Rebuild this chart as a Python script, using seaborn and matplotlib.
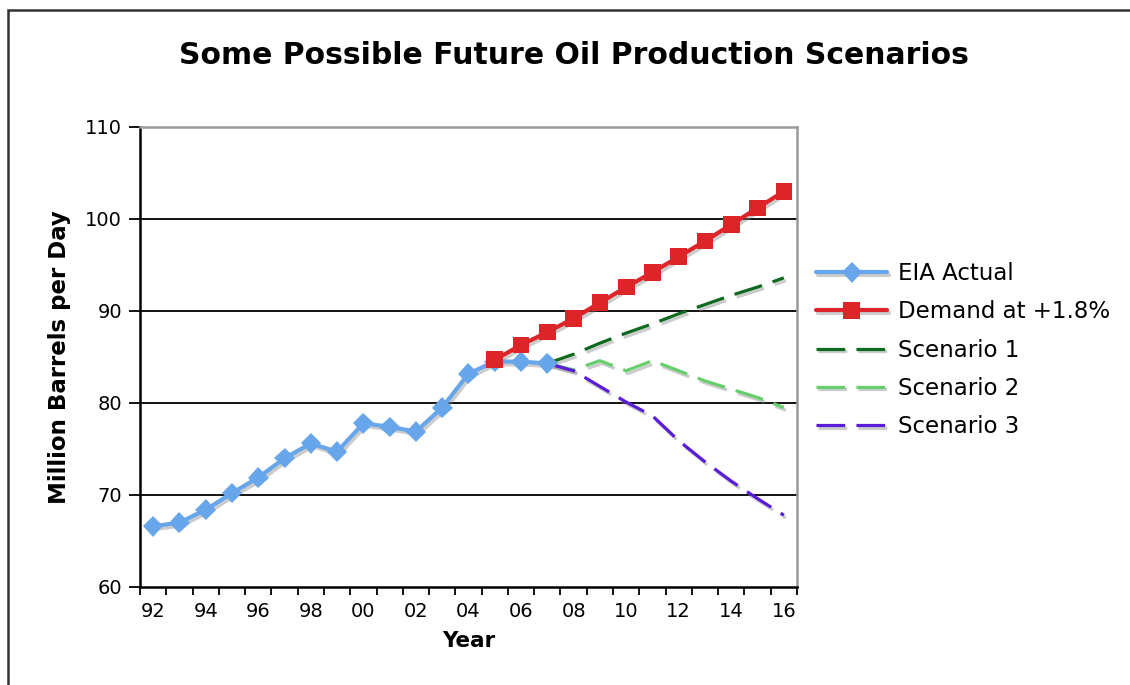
import matplotlib
matplotlib.use("Agg")
import matplotlib.pyplot as plt
import matplotlib.patheffects as pe
import seaborn as sns
import pandas as pd

years = ["92", "93", "94", "95", "96", "97", "98", "99", "00", "01", "02", "03",
         "04", "05", "06", "07", "08", "09", "10", "11", "12", "13", "14", "15", "16"]

eia_actual = [66.6, 67.0, 68.4, 70.2, 71.9, 74.0, 75.6, 74.7, 77.8, 77.4, 76.9,
              79.5, 83.2, 84.5, 84.5, 84.3]                       # 92 .. 07
demand = [84.7, 86.3, 87.7, 89.2, 90.9, 92.6, 94.2, 95.9, 97.6, 99.4, 101.2, 103.0]  # 05 .. 16
scenario1 = [84.3, 85.3, 86.5, 87.6, 88.6, 89.7, 90.7, 91.7, 92.6, 93.6]     # 07 .. 16
scenario2 = [84.3, 83.6, 84.6, 83.5, 84.6, 83.5, 82.4, 81.5, 80.6, 79.5]
scenario3 = [84.3, 83.5, 81.8, 80.1, 78.6, 75.9, 73.6, 71.5, 69.6, 67.8]


def frame(values, start):
    i0 = years.index(start)
    return pd.DataFrame({"pos": range(i0, i0 + len(values)), "value": values})


shadow = [pe.SimpleLineShadow(offset=(1.5, -2), shadow_color="#808080", alpha=0.4), pe.Normal()]
dash = (0, (9, 3.5))

sns.set_style("white")
plt.rcParams["font.family"] = ["DejaVu Sans"]
plt.rcParams["text.color"] = "black"
plt.rcParams["xtick.color"] = "black"
plt.rcParams["ytick.color"] = "black"
plt.rcParams["axes.labelcolor"] = "black"

fig = plt.figure(figsize=(11.3, 6.85), dpi=100)
ax = fig.add_axes([0.1239, 0.1431, 0.5814, 0.6715])

sns.lineplot(data=frame(scenario1, "07"), x="pos", y="value", ax=ax, color="#0E6A1E",
             linewidth=2.3, linestyle=dash, path_effects=shadow, label="Scenario 1")
sns.lineplot(data=frame(scenario2, "07"), x="pos", y="value", ax=ax, color="#66CF6C",
             linewidth=2.3, linestyle=dash, path_effects=shadow, label="Scenario 2")
sns.lineplot(data=frame(scenario3, "07"), x="pos", y="value", ax=ax, color="#5A1CD8",
             linewidth=2.3, linestyle=dash, path_effects=shadow, label="Scenario 3")
sns.lineplot(data=frame(eia_actual, "92"), x="pos", y="value", ax=ax, color="#68A6EC",
             linewidth=3, marker="D", markersize=10.5, markeredgewidth=0,
             markeredgecolor="#68A6EC", path_effects=shadow, label="EIA Actual")
sns.lineplot(data=frame(demand, "05"), x="pos", y="value", ax=ax, color="#DD2428",
             linewidth=3, marker="s", markersize=12, markeredgewidth=0,
             markeredgecolor="#DD2428", path_effects=shadow, label="Demand at +1.8%")

ax.set_xlim(-0.5, len(years) - 0.5)
ax.set_ylim(60, 110)
ax.set_yticks(range(60, 111, 10))
for y in range(70, 101, 10):
    ax.axhline(y, color="black", linewidth=1.3, zorder=0)

# ticks on the category boundaries, labels on every other category
ax.set_xticks([i - 0.5 for i in range(len(years) + 1)])
ax.set_xticklabels([])
ax.set_xticks(range(0, len(years), 2), minor=True)
ax.set_xticklabels(years[::2], minor=True)
ax.tick_params(axis="x", which="major", direction="out", length=6, width=1.3, color="black", bottom=True)
ax.tick_params(axis="x", which="minor", length=0, pad=11, labelsize=14)
ax.tick_params(axis="y", direction="out", length=8, width=1.3, color="black", left=True,
               labelsize=14, pad=5)

for side in ["left", "bottom"]:
    ax.spines[side].set_color("black")
    ax.spines[side].set_linewidth(1.8)
for side in ["top", "right"]:
    ax.spines[side].set_color("#9a9a9a")
    ax.spines[side].set_linewidth(1.8)

ax.set_xlabel("Year", fontsize=15.5, fontweight="bold", labelpad=7)
ax.set_ylabel("Million Barrels per Day", fontsize=16.5, fontweight="bold", labelpad=10)
fig.suptitle("Some Possible Future Oil Production Scenarios", x=0.508, y=0.94,
             fontsize=21.5, fontweight="bold")

handles, labels = ax.get_legend_handles_labels()
order = ["EIA Actual", "Demand at +1.8%", "Scenario 1", "Scenario 2", "Scenario 3"]
hmap = dict(zip(labels, handles))
ax.legend([hmap[k] for k in order], order, loc="center left", bbox_to_anchor=(0.998, 0.515),
          frameon=False, fontsize=16.5, handlelength=3.1, labelspacing=0.66, handletextpad=0.45)

# outer frame of the chart
fig.add_artist(plt.Rectangle((8 / 1130, -0.05), 1.2, 1 - 10 / 685 + 0.05,
                             transform=fig.transFigure, fill=False, edgecolor="#333333",
                             linewidth=1.8))

fig.savefig("out.png", dpi=100)
